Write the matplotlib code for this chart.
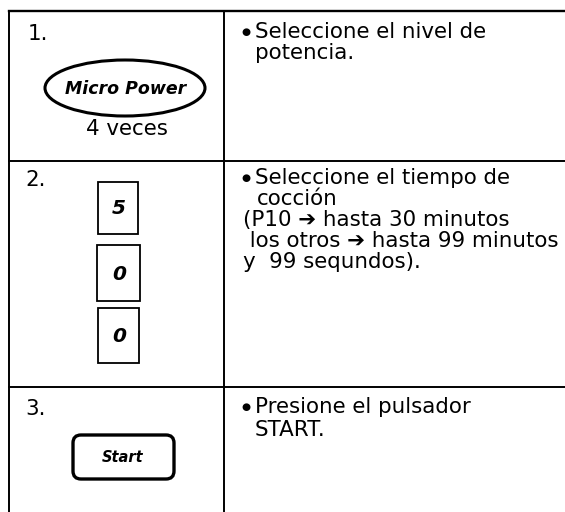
import matplotlib
matplotlib.use('Agg')
import matplotlib.pyplot as plt
from matplotlib.patches import Ellipse, Rectangle, FancyBboxPatch

plt.rcParams['font.family'] = ['DejaVu Sans']

# table content
steps = ['1.', '2.', '3.']
power_key = 'Micro Power'
power_times = '4 veces'
time_keys = ['5', '0', '0']
start_key = 'Start'
instructions = [
    ['Seleccione el nivel de', 'potencia.'],
    ['Seleccione el tiempo de', 'cocción', '(P10 \u2794 hasta 30 minutos',
     ' los otros \u2794 hasta 99 minutos', 'y  99 sequndos).'],
    ['Presione el pulsador', 'START.'],
]

# layout (pixel coords, y down)
W, H = 565, 512
x_left, x_div, x_right = 9, 224, 565
y_top = 11
row_lines = [161, 387]
step_pos = [(28, 40), (25, 186), (25, 415)]
bullet_x = 246
line_base = [[38, 59], [184, 205, 226, 247, 268], [413, 436]]
line_x = [[255, 255], [255, 257, 243, 243, 243], [255, 255]]
boxes = [(98, 182, 40, 52), (97, 245, 43, 56), (98, 308, 41, 55)]

fig = plt.figure(figsize=(W / 100, H / 100), dpi=100)
ax = fig.add_axes([0, 0, 1, 1])
ax.set_xlim(0, W)
ax.set_ylim(H, 0)
ax.axis('off')

lw = 1.4
ax.plot([x_left, x_right], [y_top, y_top], color='black', lw=lw + 0.3)
ax.plot([x_left, x_left], [y_top, H], color='black', lw=lw)
ax.plot([x_div, x_div], [y_top, H], color='black', lw=lw)
for y in row_lines:
    ax.plot([x_left, x_right], [y, y], color='black', lw=lw)

fs = 15.4
for s, (x, y) in zip(steps, step_pos):
    ax.text(x, y, s, fontsize=fs, ha='left', va='baseline')

# step 1: Micro Power key
ax.add_patch(Ellipse((125, 88), 160, 56, fill=False, lw=2.2, ec='black'))
ax.text(126, 89, power_key, fontsize=12.5, fontweight='bold', fontstyle='italic',
        ha='center', va='center')
ax.text(127, 129, power_times, fontsize=fs, ha='center', va='center')

# step 2: number keys
for (bx, by, bw, bh), k in zip(boxes, time_keys):
    ax.add_patch(Rectangle((bx, by), bw, bh, fill=False, lw=1.3, ec='black'))
    ax.text(bx + bw / 2 + 1, by + bh / 2 + 1, k, fontsize=14.5, fontweight='bold',
            fontstyle='italic', ha='center', va='center')

# step 3: Start key
ax.add_patch(FancyBboxPatch((73, 435), 101, 44, boxstyle='round,pad=0,rounding_size=8',
                            fill=False, lw=2.4, ec='black'))
ax.text(123, 457, start_key, fontsize=10.5, fontweight='bold', fontstyle='italic',
        ha='center', va='center')

# instructions
for lines, bases, xs in zip(instructions, line_base, line_x):
    ax.text(bullet_x, bases[0] - 6, '\u25cf', fontsize=7.5, ha='center', va='center')
    for txt, yb, xt in zip(lines, bases, xs):
        ax.text(xt, yb, txt, fontsize=fs, ha='left', va='baseline')

fig.savefig('out.png', dpi=100, facecolor='white')
